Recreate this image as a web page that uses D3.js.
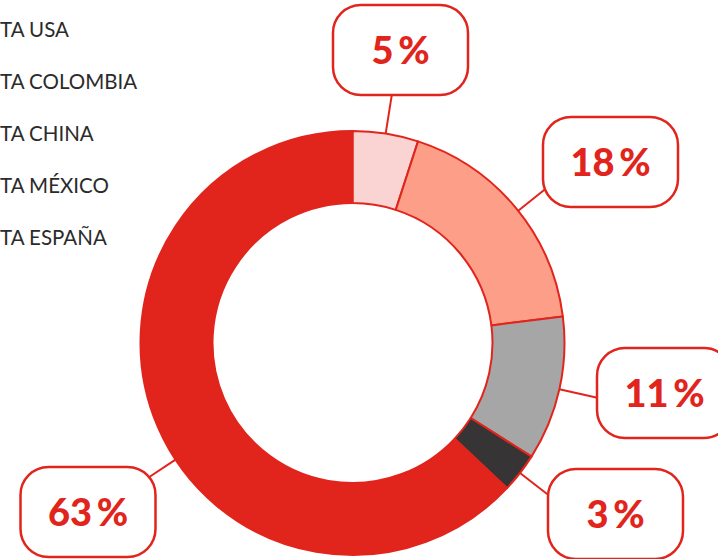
<!DOCTYPE html>
<html>
<head>
<meta charset="utf-8">
<script src="https://cdn.jsdelivr.net/npm/d3@7"></script>
<style>
  html, body { margin: 0; padding: 0; background: #fff; }
  svg { display: block; }
</style>
</head>
<body>
<svg id="chart" width="718" height="559"></svg>
<script>
// Plant names shown at the left, and each plant's share in percent
const plants = ["TA USA", "TA COLOMBIA", "TA CHINA", "TA MÉXICO", "TA ESPAÑA"];
const sliceNames = ["USA", "COLOMBIA", "CHINA", "MÉXICO", "ESPAÑA"];
const shares = [5, 18, 11, 3, 63];
const sliceColors = ["#f9d4d2", "#fd9f88", "#a6a6a6", "#363434", "#e1251c"];

// Callout placement (box centres) and leader tweaks, per slice
const calloutCenters = [[400.5, 50], [610.5, 162], [664.5, 393], [615.5, 514], [88, 512]];
const leaderAngleShift = [0, 1, 0, 0, -10];

const RED = "#e1251c";
const cx = 352.5, cy = 343;
const outerR = 212, innerR = 140;

const svg = d3.select("#chart");

// Legend text
svg.append("g")
  .selectAll("text")
  .data(plants)
  .join("text")
  .attr("x", 0)
  .attr("y", (d, i) => 37 + i * 52)
  .attr("font-family", "Lato, 'Open Sans', sans-serif")
  .attr("font-size", 20.5)
  .attr("fill", "#2b2b2b")
  .text(d => d);

// Donut
const pie = d3.pie().sort(null).value(d => d.value);
const arcs = pie(shares.map((v, i) => ({ name: sliceNames[i], value: v })));
const arc = d3.arc().innerRadius(innerR).outerRadius(outerR);

const g = svg.append("g").attr("transform", `translate(${cx},${cy})`);
g.selectAll("path")
  .data(arcs)
  .join("path")
  .attr("d", arc)
  .attr("fill", (d, i) => sliceColors[i])
  .attr("stroke", RED)
  .attr("stroke-width", 2)
  .attr("stroke-linejoin", "round");

// Leader lines from the ring out to the callouts
const toRad = Math.PI / 180;
arcs.forEach((d, i) => {
  const a = (d.startAngle + d.endAngle) / 2 + leaderAngleShift[i] * toRad;
  const r0 = outerR, r1 = outerR + 40;
  g.append("line")
    .attr("x1", r0 * Math.sin(a)).attr("y1", -r0 * Math.cos(a))
    .attr("x2", r1 * Math.sin(a)).attr("y2", -r1 * Math.cos(a))
    .attr("stroke", RED)
    .attr("stroke-width", 2);
});

// Callout boxes with percentages
const boxW = 135, boxH = 90;
const callouts = svg.append("g")
  .selectAll("g")
  .data(arcs)
  .join("g")
  .attr("transform", (d, i) => `translate(${calloutCenters[i][0]},${calloutCenters[i][1]})`);

callouts.append("rect")
  .attr("x", -boxW / 2).attr("y", -boxH / 2)
  .attr("width", boxW).attr("height", boxH)
  .attr("rx", 28).attr("ry", 28)
  .attr("fill", "#fff")
  .attr("stroke", RED)
  .attr("stroke-width", 2.5);

callouts.append("text")
  .attr("text-anchor", "middle")
  .attr("y", 13.5)
  .attr("font-family", "Lato, sans-serif")
  .attr("font-weight", 900)
  .attr("font-size", 38)
  .attr("fill", RED)
  .text(d => d.value + "\u2009%");
</script>
</body>
</html>
